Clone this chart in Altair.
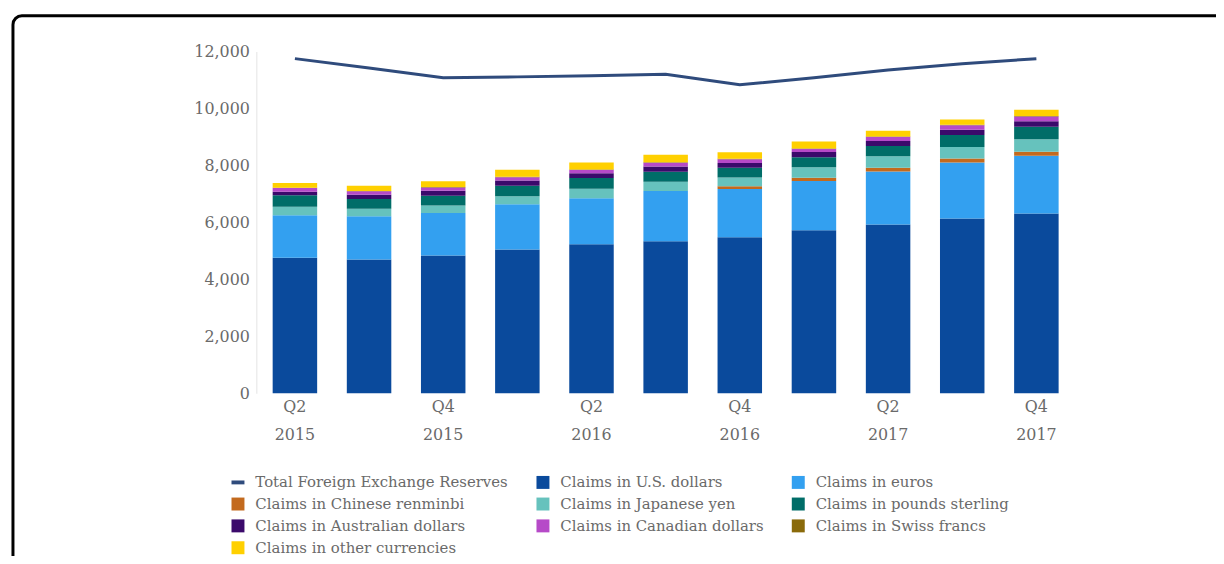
import altair as alt
import pandas as pd

quarters = ["Q2 2015", "Q3 2015", "Q4 2015", "Q1 2016", "Q2 2016", "Q3 2016",
            "Q4 2016", "Q1 2017", "Q2 2017", "Q3 2017", "Q4 2017"]

series_names = [
    "Total Foreign Exchange Reserves",
    "Claims in U.S. dollars",
    "Claims in euros",
    "Claims in Chinese renminbi",
    "Claims in Japanese yen",
    "Claims in pounds sterling",
    "Claims in Australian dollars",
    "Claims in Canadian dollars",
    "Claims in Swiss francs",
    "Claims in other currencies",
]
series_colors = ["#2f4b7c", "#0a4a9c", "#33a0f0", "#c36a1e", "#66c2bd",
                 "#006d68", "#3b0a6b", "#b64ac8", "#8a6a0a", "#ffd000"]
legend_shapes = ["M-1,-0.3H1V0.3H-1Z"] + ["square"] * 9

total_reserves = [11750, 11420, 11080, 11110, 11150, 11200, 10830, 11080, 11350, 11570, 11750]
usd = [4760, 4700, 4840, 5050, 5230, 5340, 5480, 5720, 5930, 6140, 6310]
eur = [1490, 1515, 1490, 1590, 1620, 1760, 1690, 1730, 1860, 1965, 2030]
cny = [0, 0, 0, 0, 0, 0, 100, 115, 130, 135, 140]
jpy = [300, 260, 265, 275, 330, 330, 310, 370, 400, 410, 440]
gbp = [400, 350, 345, 375, 375, 345, 340, 350, 360, 420, 435]
aud = [130, 150, 170, 180, 170, 190, 170, 185, 180, 185, 200]
cad = [125, 115, 115, 115, 115, 130, 130, 110, 140, 160, 160]
chf = [15, 15, 15, 15, 15, 15, 15, 15, 15, 15, 18]
other = [160, 180, 205, 250, 250, 265, 225, 245, 200, 185, 225]

claims = [usd, eur, cny, jpy, gbp, aud, cad, chf, other]

rows = []
for i, (name, vals) in enumerate(zip(series_names[1:], claims)):
    for q, v in zip(quarters, vals):
        rows.append({"quarter": q, "series": name, "value": v, "order": i})
bars_df = pd.DataFrame(rows)
line_df = pd.DataFrame({"quarter": quarters, "series": series_names[0], "value": total_reserves})
frame_df = pd.DataFrame({"frame": [0]})

FONT = "DejaVu Serif"
TXT = "#6a6a6a"

color_scale = alt.Scale(domain=series_names, range=series_colors)
shape_scale = alt.Scale(domain=series_names, range=legend_shapes)

x_enc = alt.X("quarter:N", sort=quarters,
              scale=alt.Scale(paddingInner=0.4, paddingOuter=0.22),
              axis=alt.Axis(title=None, labelAngle=0, ticks=False, domain=False,
                            labelExpr="test(/Q[13]/, datum.label) ? '' : split(datum.label, ' ')",
                            labelFont=FONT, labelFontSize=16, labelColor=TXT,
                            labelPadding=5, labelLineHeight=29, labelOverlap=False))
y_enc = alt.Y("value:Q", stack="zero",
              scale=alt.Scale(domain=[0, 12000], nice=False),
              axis=alt.Axis(title=None, values=[0, 2000, 4000, 6000, 8000, 10000, 12000],
                            format=",.0f", grid=False, ticks=False, domainColor="#e4e4e4",
                            labelFont=FONT, labelFontSize=16, labelColor=TXT, labelPadding=7))

legend = alt.Legend(title=None, orient="none", legendX=-26, legendY=426, columns=3,
                    direction="horizontal", values=series_names,
                    labelFont=FONT, labelFontSize=15, labelColor=TXT, labelOffset=10,
                    symbolSize=170, symbolStrokeWidth=0, symbolOpacity=1,
                    columnPadding=27, rowPadding=6, labelLimit=400)

frame = alt.Chart(frame_df).mark_rect(fillOpacity=0, stroke="black", strokeWidth=3,
                                      cornerRadius=9).encode(
    x=alt.value(-245), x2=alt.value(2000), y=alt.value(-36), y2=alt.value(900))

bars = alt.Chart(bars_df).mark_bar().encode(
    x=x_enc, y=y_enc,
    color=alt.Color("series:N", scale=color_scale, legend=legend),
    order=alt.Order("order:Q", sort="ascending"),
)

line = alt.Chart(line_df).mark_line(strokeWidth=3).encode(
    x=x_enc, y=alt.Y("value:Q"),
    color=alt.Color("series:N", scale=color_scale, legend=legend),
)

legend_pts = alt.Chart(line_df).transform_filter("false").mark_point(filled=True, opacity=1).encode(
    x=x_enc, y=alt.Y("value:Q"),
    color=alt.Color("series:N", scale=color_scale, legend=legend),
    shape=alt.Shape("series:N", scale=shape_scale, legend=legend),
)

chart = alt.layer(frame, bars, line, legend_pts).properties(
    width=824, height=344, autosize="none",
    padding={"left": 250, "top": 42, "right": 142, "bottom": 162},
    background="white",
).configure_view(strokeWidth=0)

chart.save("out.html", embed_options={"renderer": "svg", "actions": False})
